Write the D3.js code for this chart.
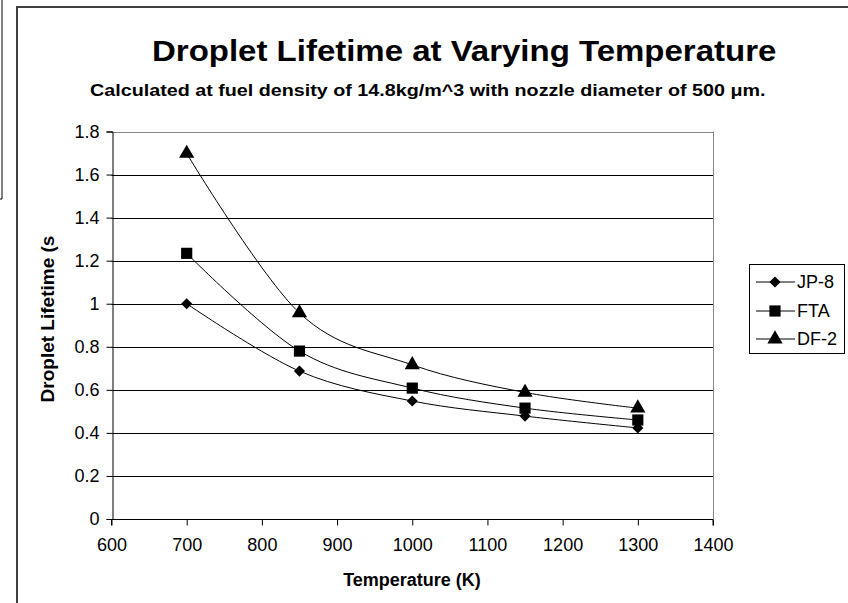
<!DOCTYPE html>
<html>
<head>
<meta charset="utf-8">
<script src="https://cdn.jsdelivr.net/npm/d3@7"></script>
<style>
  body { margin: 0; background: #fff; }
  svg { font-family: Arial, 'Liberation Sans', sans-serif; }
</style>
</head>
<body>
<svg id="chart"></svg>
<script>
const width = 848
const height = 603

// data
const temps = [700, 850, 1000, 1150, 1300]
const jp8 = [1.0, 0.687, 0.548, 0.478, 0.423]
const fta = [1.234, 0.78, 0.608, 0.515, 0.46]
const df2 = [1.698, 0.957, 0.716, 0.588, 0.515]
const seriesNames = ['JP-8', 'FTA', 'DF-2']
const yTicks = [0, 0.2, 0.4, 0.6, 0.8, 1, 1.2, 1.4, 1.6, 1.8]
const xTicks = [600, 700, 800, 900, 1000, 1100, 1200, 1300, 1400]

// marker shapes: diamond (square turned 45deg), square, triangle
const markers = [
  { type: d3.symbolSquare, size: 62, rotate: 45 },
  { type: d3.symbolSquare, size: 125, rotate: 0 },
  { type: d3.symbolTriangle, size: 100, rotate: 0 },
]

const series = [jp8, fta, df2].map((vals, i) => ({
  name: seriesNames[i],
  points: vals.map((v, j) => ({ x: temps[j], y: v })),
}))

const svg = d3.select('#chart').attr('width', width).attr('height', height)

// frames
svg.append('path')
  .attr('d', 'M2,0V199H0')
  .attr('fill', 'none')
  .attr('stroke', '#000')
  .attr('stroke-width', 1)
svg.append('rect')
  .attr('x', 17).attr('y', 7)
  .attr('width', 860).attr('height', 620)
  .attr('fill', 'none')
  .attr('stroke', '#404040')
  .attr('stroke-width', 2)

const x = d3.scaleLinear().domain([600, 1400]).range([111.5, 713])
const y = d3.scaleLinear().domain([0, 1.8]).range([519, 131.5])

// gridlines
svg.append('g')
  .selectAll('line')
  .data(yTicks.filter((d) => d > 0))
  .join('line')
  .attr('x1', x(600)).attr('x2', x(1400))
  .attr('y1', (d) => Math.round(y(d)) + 0.5)
  .attr('y2', (d) => Math.round(y(d)) + 0.5)
  .attr('stroke', (d) => (d === 1.8 ? '#888' : '#000'))
  .attr('stroke-width', 1)

// right border of plot area
svg.append('line')
  .attr('x1', Math.round(x(1400)) + 0.5).attr('x2', Math.round(x(1400)) + 0.5)
  .attr('y1', y(1.8)).attr('y2', y(0))
  .attr('stroke', '#888')

// axes
const xAxis = svg.append('g')
  .attr('transform', `translate(0,${Math.round(y(0)) + 0.5})`)
  .call(d3.axisBottom(x).tickValues(xTicks).tickSize(6).tickPadding(13).tickFormat(d3.format('d')))
const yAxis = svg.append('g')
  .attr('transform', `translate(${Math.round(x(600)) + 0.5},0)`)
  .call(d3.axisLeft(y).tickValues(yTicks).tickSize(6).tickPadding(6).tickFormat((d) => String(d)))

;[xAxis, yAxis].forEach((g) => {
  g.attr('font-size', null).attr('font-family', null)
  g.select('.domain').attr('stroke', '#000').attr('stroke-width', 1)
  g.selectAll('.tick line').attr('stroke', '#000')
  g.selectAll('text').attr('fill', '#000').style('font-size', '18px')
})
xAxis.select('.domain').attr('d', `M${x(600)},6V0H${x(1400)}V6`)
yAxis.selectAll('text').attr('x', -13)

// lines
const line = d3.line()
  .x((d) => x(d.x))
  .y((d) => y(d.y))
  .curve(d3.curveCardinal.tension(0))

svg.append('g')
  .selectAll('path')
  .data(series)
  .join('path')
  .attr('d', (d) => line(d.points))
  .attr('fill', 'none')
  .attr('stroke', '#000')
  .attr('stroke-width', 1)

// markers
series.forEach((s, i) => {
  const m = markers[i]
  svg.append('g')
    .selectAll('path')
    .data(s.points)
    .join('path')
    .attr('transform', (d) => `translate(${x(d.x)},${y(d.y)}) rotate(${m.rotate})`)
    .attr('d', d3.symbol().type(m.type).size(m.size))
    .attr('fill', '#000')
})

// titles
svg.append('text')
  .attr('transform', 'translate(152,61) scale(1.1,1)')
  .style('font-size', '30px').attr('font-weight', 'bold')
  .text('Droplet Lifetime at Varying Temperature')

svg.append('text')
  .attr('transform', 'translate(90,96) scale(1.16,1)')
  .style('font-size', '17px').attr('font-weight', 'bold')
  .text('Calculated at fuel density of 14.8kg/m^3 with nozzle diameter of 500 μm.')

svg.append('text')
  .attr('x', 412).attr('y', 586)
  .attr('text-anchor', 'middle')
  .style('font-size', '18px').attr('font-weight', 'bold')
  .text('Temperature (K)')

svg.append('text')
  .attr('transform', 'translate(54,319) rotate(-90)')
  .attr('text-anchor', 'middle')
  .style('font-size', '19px').attr('font-weight', 'bold')
  .text('Droplet Lifetime (s')

// legend
const legend = svg.append('g')
legend.append('rect')
  .attr('x', 749.5).attr('y', 264.5)
  .attr('width', 95).attr('height', 89)
  .attr('fill', '#fff')
  .attr('stroke', '#000')

const legendY = [282, 311, 339]
series.forEach((s, i) => {
  const m = markers[i]
  const g = legend.append('g').attr('transform', `translate(0,${legendY[i]})`)
  g.append('line')
    .attr('x1', 756).attr('x2', 795)
    .attr('stroke', '#000')
  g.append('path')
    .attr('transform', `translate(775,0) rotate(${m.rotate})`)
    .attr('d', d3.symbol().type(m.type).size(m.size))
    .attr('fill', '#000')
  g.append('text')
    .attr('x', 797).attr('y', 6)
    .style('font-size', '18px')
    .text(s.name)
})
</script>
</body>
</html>
